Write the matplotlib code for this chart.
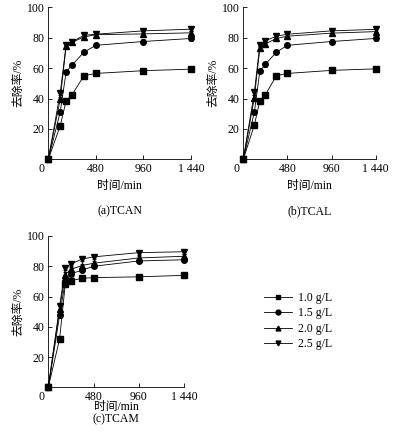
import matplotlib
matplotlib.use("Agg")
import matplotlib.pyplot as plt
from matplotlib.lines import Line2D

plt.rcParams['font.family'] = ['Liberation Serif', 'Noto Sans CJK SC']
plt.rcParams['font.size'] = 8.5

# sampling times (min)
times = [0, 120, 180, 240, 360, 480, 960, 1440]
doses = ['1.0 g/L', '1.5 g/L', '2.0 g/L', '2.5 g/L']
markers = ['s', 'o', '^', 'v']

# removal rate (%) for each dose, per compound
tcan = [
    [0, 22, 38.5, 42.5, 55, 56.5, 58.3, 59.3],
    [0, 31, 57.5, 62, 70.5, 75, 77.5, 79.5],
    [0, 39.5, 74.5, 77, 80.5, 82, 82.5, 83.2],
    [0, 43.5, 75.5, 77.5, 81.5, 82.3, 84.5, 85.6],
]
tcal = [
    [0, 22.5, 38.5, 42.5, 55, 56.5, 58.5, 59.5],
    [0, 31, 58, 62.5, 70.5, 75, 77.5, 79.5],
    [0, 40.5, 73, 76, 79.5, 81, 83, 84],
    [0, 44, 75.5, 78, 81, 82.3, 84.5, 85.5],
]
tcam = [
    [0, 32, 68, 70.5, 72, 72.5, 73, 74],
    [0, 47.5, 70, 75, 77.5, 80, 83.5, 84.3],
    [0, 52, 74.5, 78, 80.5, 82, 85.5, 86.6],
    [0, 53.5, 79, 81.5, 84.8, 86.2, 89, 89.6],
]
err = [0, 1.5, 1.5, 1.5, 1.2, 1.2, 1.5, 1.5]

panels = [tcan, tcal, tcam]
captions = ['(a)TCAN', '(b)TCAL', '(c)TCAM']

W, H = 397, 443
fig = plt.figure(figsize=(W / 100, H / 100), dpi=100)

# axes boxes in pixels: left, top, right, bottom; then xlabel and caption offsets below axis
boxes = [(48.3, 7.3, 191, 159.3), (243.3, 7.3, 375.7, 159.3), (48.3, 236, 184, 387.3)]
xlab_off = [27, 27, 19.5]
cap_off = [52, 52, 31.5]

for data, cap, (l, t, r, b), xo, co in zip(panels, captions, boxes, xlab_off, cap_off):
    ax = fig.add_axes([l / W, 1 - b / H, (r - l) / W, (b - t) / H])
    for vals, m, lab in zip(data, markers, doses):
        ax.errorbar(times, vals, yerr=err, color='black', lw=0.6, marker=m,
                    ms=4, elinewidth=0.6, capsize=1.5, capthick=0.6,
                    label=lab, clip_on=False)
    ax.set_xlim(0, 1440)
    ax.set_ylim(0, 100)
    ax.set_xticks([0, 480, 960, 1440])
    ax.set_xticklabels(['', '480', '960', '1 440'])
    ax.set_yticks([20, 40, 60, 80, 100])
    ax.tick_params(direction='in', length=3, width=0.6, pad=2.5, labelsize=8.5)
    ax.annotate('0', xy=(0, 0), xycoords='data', xytext=(-7, -3.5),
                textcoords='offset pixels', ha='center', va='top', fontsize=8.5)
    for s in ['top', 'right']:
        ax.spines[s].set_visible(False)
    for s in ['left', 'bottom']:
        ax.spines[s].set_linewidth(0.6)
    ax.set_ylabel('去除率/%', fontsize=8.5, labelpad=2)
    ax.set_xlabel('时间/min', fontsize=8.5, va='center')
    ax.xaxis.set_label_coords(0.5, -xo / (b - t))
    cx = (l + r) / 2
    fig.text(cx / W, 1 - (b + co) / H, cap, ha='center', va='center', fontsize=8.5)

handles = [Line2D([], [], color='black', lw=0.6, marker=m, ms=3.5) for m in markers]
fig.legend(handles, doses, loc='upper left', bbox_to_anchor=(259 / W, 1 - 287 / H),
           frameon=False, fontsize=8.5, handlelength=2.4, handletextpad=0.5,
           labelspacing=0.3, borderaxespad=0)

fig.savefig('out.png', dpi=100)
